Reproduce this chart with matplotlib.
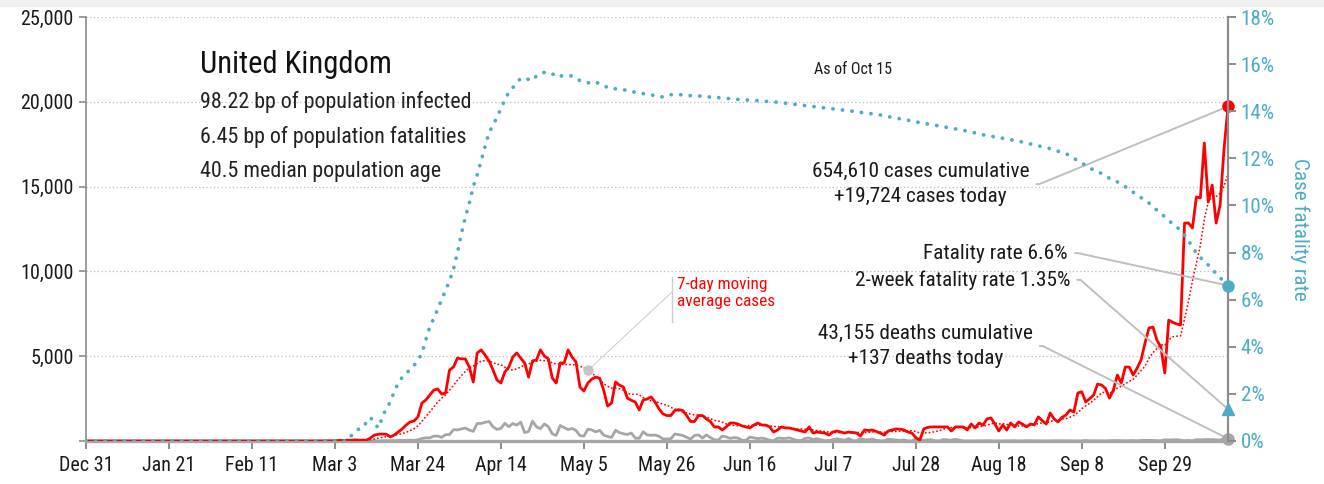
import matplotlib
matplotlib.use('Agg')
import matplotlib.pyplot as plt
import numpy as np
import pandas as pd
from matplotlib import font_manager
from matplotlib.patches import Rectangle

names = {f.name for f in font_manager.fontManager.ttflist}
FONT = 'Liberation Sans'
for cand in ['Roboto Condensed', 'Archivo Narrow', 'Liberation Sans Narrow',
             'Barlow Condensed', 'Asap Condensed']:
    if cand in names:
        FONT = cand
        break
plt.rcParams['font.family'] = [FONT, 'DejaVu Sans']

# ---------------- data ----------------
start_date = '2019-12-31'
x_tick_labels = ['Dec 31', 'Jan 21', 'Feb 11', 'Mar 3', 'Mar 24', 'Apr 14', 'May 5',
                 'May 26', 'Jun 16', 'Jul 7', 'Jul 28', 'Aug 18', 'Sep 8', 'Sep 29']
left_ticks = [0, 5000, 10000, 15000, 20000, 25000]
left_tick_labels = ['', '5,000', '10,000', '15,000', '20,000', '25,000']
right_ticks = [0, 2, 4, 6, 8, 10, 12, 14, 16, 18]
right_tick_labels = ['0%', '2%', '4%', '6%', '8%', '10%', '12%', '14%', '16%', '18%']

# daily new cases (Dec 31 .. Oct 15)
cases = [0] * 61 + [
    12, 4, 11, 34, 30, 48, 43, 67, 48, 46,
    50, 180, 350, 400, 410, 400, 240, 350, 530, 710,
    940, 1120, 1180, 1420, 2240, 2420, 2710, 3000, 3070, 2770,
    2830, 4190, 4360, 4890, 4840, 4840, 4360, 3480, 5190, 5370,
    5070, 4720, 4190, 3600, 3420, 4070, 4360, 4950, 5190, 4890,
    4600, 3770, 4720, 4780, 5370, 5010, 4840, 3710, 3420, 4600,
    4600, 5370, 4950, 4660, 3180, 2950, 3420, 3650, 3770, 3700,
    3000, 2060, 2240, 3480, 3300, 3180, 2530, 2400, 2300, 1830,
    2420, 2480, 2600, 2300, 1900, 1600, 1500, 1500, 1800, 1850,
    1800, 1500, 1150, 1150, 1500, 1500, 1300, 1150, 830, 830,
    650, 830, 1060, 1060, 1000, 890, 830, 770, 940, 1060,
    940, 940, 830, 530, 650, 830, 770, 770, 710, 650,
    590, 530, 830, 470, 530, 500, 470, 350, 530, 590,
    530, 470, 530, 500, 470, 300, 650, 620, 650, 560,
    470, 350, 590, 650, 710, 700, 650, 530, 470, 200,
    50, 710, 800, 830, 830, 830, 830, 830, 590, 830,
    830, 830, 650, 1000, 770, 1060, 940, 1300, 1360, 1000,
    590, 940, 650, 1060, 830, 1120, 1000, 830, 1000, 950,
    1420, 1200, 1000, 1650, 1300, 1120, 1400, 1530, 1830, 1710,
    2830, 2900, 2300, 2500, 2710, 3360, 3300, 3100, 2530, 3000,
    3890, 3420, 4360, 4360, 3890, 4300, 4780, 5780, 6660, 6720,
    5960, 5550, 4010, 7130, 7000, 6900, 6840, 12850, 12850, 12560,
    14390, 14330, 17570, 14090, 15090, 12850, 13910, 17230, 19724,
]

# daily new deaths
deaths = [0] * 70 + [
    1, 2, 0, 2, 1, 18, 15, 22, 16, 34,
    43, 36, 56, 35, 74, 149, 186, 183, 284, 294,
    214, 374, 382, 670, 652, 714, 760, 644, 568, 1038,
    1034, 1103, 1152, 839, 686, 744, 1044, 842, 1029, 935,
    1115, 498, 559, 1172, 837, 727, 1005, 843, 420, 338,
    909, 795, 674, 739, 621, 315, 288, 693, 649, 539,
    627, 346, 268, 210, 628, 494, 428, 384, 468, 170,
    160, 545, 363, 338, 351, 282, 118, 121, 134, 412,
    377, 324, 215, 113, 324, 359, 176, 357, 204, 77,
    55, 286, 245, 151, 202, 181, 36, 38, 233, 184,
    135, 173, 128, 43, 15, 171, 154, 149, 186, 100,
    36, 25, 155, 176, 89, 137, 67, 22, 16, 85,
    126, 85, 48, 148, 21, 11, 138, 79, 66, 123,
    40, 11, 14, 110, 83, 53, 38, 65, 7, 7,
    119, 83, 38, 68, 74, 8, 5, 89, 65, 49,
    97, 55, 3, 8, 3, 2, 12, 6, 19, 8,
    2, 11, 4, 16, 6, 18, 2, 5, 16, 12,
    9, 2, 0, 2, 3, 10, 12, 14, 7, 12,
    5, 3, 8, 32, 8, 14, 6, 9, 5, 20,
    20, 27, 21, 11, 18, 27, 11, 37, 37, 40,
    34, 17, 13, 71, 59, 66, 76, 49, 22, 33,
    19, 76, 70, 77, 87, 81, 65, 50, 143, 137,
]

# case fatality rate, %
cfr = [0.0] * 66 + [
    0.0, 0.2, 0.4, 0.5, 0.55, 0.8, 1.0, 0.75, 0.55, 1.0,
    1.4, 1.65, 2.1, 2.45, 2.7, 2.9, 3.0, 3.2, 3.45, 3.7,
    4.3, 4.85, 5.2, 5.6, 6.0, 6.4, 6.8, 7.3, 8.0, 8.8,
    9.5, 10.1, 10.8, 11.3, 11.9, 12.5, 13.1, 13.4, 13.75, 14.1,
    14.5, 14.8, 15.0, 15.2, 15.4, 15.4, 15.35, 15.3, 15.5, 15.6,
    15.65, 15.65, 15.6, 15.45, 15.5, 15.5, 15.5, 15.5, 15.4, 15.3,
    15.25, 15.2, 15.25, 15.25, 15.15, 15.1, 15.0, 15.0, 14.95, 14.95,
    14.9, 14.9, 14.85, 14.8, 14.8, 14.75, 14.7, 14.7, 14.65, 14.65,
    14.6, 14.65, 14.7, 14.7, 14.7, 14.7, 14.68, 14.66, 14.65, 14.65,
    14.63, 14.62, 14.6, 14.6, 14.58, 14.56, 14.55, 14.53, 14.52, 14.5,
    14.49, 14.48, 14.47, 14.46, 14.45, 14.44, 14.42, 14.41, 14.4, 14.38,
    14.36, 14.34, 14.32, 14.3, 14.28, 14.26, 14.24, 14.22, 14.2, 14.18,
    14.16, 14.14, 14.12, 14.1, 14.08, 14.06, 14.04, 14.02, 14.0, 13.98,
    13.95, 13.93, 13.91, 13.89, 13.87, 13.84, 13.8, 13.77, 13.74, 13.71,
    13.68, 13.65, 13.62, 13.58, 13.55, 13.52, 13.49, 13.46, 13.43, 13.4,
    13.37, 13.34, 13.31, 13.28, 13.25, 13.22, 13.19, 13.15, 13.12, 13.08,
    13.04, 13.0, 12.97, 12.94, 12.91, 12.88, 12.85, 12.82, 12.79, 12.76,
    12.73, 12.69, 12.65, 12.61, 12.57, 12.53, 12.49, 12.45, 12.41, 12.36,
    12.3, 12.25, 12.2, 12.1, 12.0, 11.9, 11.8, 11.7, 11.6, 11.5,
    11.45, 11.35, 11.25, 11.15, 11.1, 11.0, 10.9, 10.8, 10.68, 10.56,
    10.44, 10.33, 10.22, 10.1, 9.95, 9.8, 9.66, 9.52, 9.38, 9.2,
    9.08, 8.96, 8.74, 8.5, 8.25, 7.98, 7.8, 7.62, 7.47, 7.3,
    7.1, 6.93, 6.77, 6.6,
]
two_week_cfr = 1.35

title = 'United Kingdom'
stats = ['98.22 bp of population infected', '6.45 bp of population fatalities',
         '40.5 median population age']
as_of = 'As of Oct 15'
cases_note = '654,610 cases cumulative\n+19,724 cases today'
deaths_note = '43,155 deaths cumulative\n+137 deaths today'
fat_note = 'Fatality rate 6.6%'
fat2_note = '2-week fatality rate 1.35%'
ma_note = '7-day moving\naverage cases'
ma_note_day = 127

# ---------------- styling ----------------
RED = '#ff0000'
BLUE = '#4bacc6'
GREY = '#a6a6a6'
AXC = '#8c8c8c'
LEAD = '#bfbfbf'
TXT = '#1a1a1a'

dates = pd.date_range(start_date, periods=len(cases), freq='D')
ma = pd.Series(cases, dtype=float).rolling(7, min_periods=1).mean().values

W, H = 1324, 484
fig = plt.figure(figsize=(W / 100, H / 100), dpi=100)

# calibrate font scale so the text widths match the reference layout
renderer = fig.canvas.get_renderer()
_t = fig.text(0, 0, stats[0], fontsize=10)
_w = _t.get_window_extent(renderer).width
_t.remove()
S = (270.0 / _w) * 10 / 16.5   # stat line is ~270 px wide at "16.5"

fig.patches.append(Rectangle((0, 1 - 6 / H), 1, 6 / H, transform=fig.transFigure,
                             color='#f0f0f0', zorder=0))
ax = fig.add_axes([86 / W, 43 / H, 1142 / W, 424 / H])
ax2 = ax.twinx()

ax.plot(dates, deaths, color=GREY, lw=2.0, zorder=2, solid_joinstyle='round')
ax.plot(dates, cases, color=RED, lw=2.0, zorder=3, solid_joinstyle='round')
ax.plot(dates, ma, color=RED, lw=1.3, linestyle=(0, (0.1, 2.0)),
        dash_capstyle='round', zorder=4)
ax2.plot(dates, cfr, color=BLUE, lw=2.7, linestyle=(0, (0.05, 2.5)),
         dash_capstyle='round', zorder=3)

ax.set_xlim(dates[0], dates[-1])
ax.set_ylim(0, 25000)
ax2.set_ylim(0, 18)

ax.set_xticks(dates[::21][:len(x_tick_labels)])
ax.set_xticklabels(x_tick_labels)
ax.set_yticks(left_ticks)
ax.set_yticklabels(left_tick_labels)
ax2.set_yticks(right_ticks)
ax2.set_yticklabels(right_tick_labels)

ax.yaxis.grid(True, color='#bdbdbd', linestyle=(0, (1, 2)), lw=0.9)
ax.set_axisbelow(True)

for a in (ax, ax2):
    a.spines['top'].set_visible(False)
    a.patch.set_visible(False)
ax2.spines['left'].set_visible(False)
ax2.spines['bottom'].set_visible(False)
ax.spines['right'].set_visible(False)
ax.spines['left'].set_color(AXC)
ax.spines['left'].set_linewidth(1.2)
ax.spines['bottom'].set_color(GREY)
ax.spines['bottom'].set_linewidth(2.4)
ax2.spines['right'].set_color(AXC)
ax2.spines['right'].set_linewidth(1.6)

ax.tick_params(axis='y', length=5, width=1.2, color=AXC, labelsize=15 * S,
               labelcolor=TXT, pad=4)
ax.tick_params(axis='x', length=6, width=1.4, color=AXC, labelsize=15 * S,
               labelcolor=TXT, pad=5)
ax2.tick_params(axis='y', length=6, width=1.4, color=AXC, labelsize=15.8 * S,
                labelcolor=BLUE, pad=3)

ax2.text(1.063, 0.5, 'Case fatality rate', transform=ax2.transAxes, rotation=270,
         ha='center', va='center', color=BLUE, fontsize=16 * S)

# headline texts
ax.text(0.0998, 0.889, title, transform=ax.transAxes, fontsize=23 * S,
        color='#111111', ha='left', va='center')
for s, yy in zip(stats, [0.80, 0.716, 0.636]):
    ax.text(0.0998, yy, s, transform=ax.transAxes, fontsize=16.5 * S,
            color='#222222', ha='left', va='center')
ax.text(0.672, 0.875, as_of, transform=ax.transAxes, fontsize=12 * S,
        color=TXT, ha='center', va='center')

# end markers
ax.plot(dates[-1], cases[-1], 'o', color=RED, ms=8, clip_on=False, zorder=10)
ax.plot(dates[-1], deaths[-1], 'o', color=GREY, ms=8, clip_on=False, zorder=10)
ax2.plot(dates[-1], cfr[-1], 'o', color=BLUE, ms=8, clip_on=False, zorder=10)
ax2.plot(dates[-1], two_week_cfr, '^', color=BLUE, ms=9, clip_on=False, zorder=10)

lead = dict(arrowstyle='-', color=LEAD, lw=1.4, shrinkA=3, shrinkB=0,
            connectionstyle='arc,angleA=0,armA=10,angleB=0,armB=0,rad=0',
            relpos=(1, 0.5))
note_fs = 16 * S
ax.annotate(cases_note, xy=(dates[-1], cases[-1]), xytext=(0.731, 0.606),
            textcoords='axes fraction', ha='center', va='center', fontsize=note_fs,
            color=TXT, arrowprops=lead, zorder=6, linespacing=1.45)
ax.annotate(deaths_note, xy=(dates[-1], deaths[-1]), xytext=(0.735, 0.224),
            textcoords='axes fraction', ha='center', va='center', fontsize=note_fs,
            color=TXT, arrowprops=lead, zorder=6, linespacing=1.45)
ax2.annotate(fat_note, xy=(dates[-1], cfr[-1]), xytext=(0.860, 0.443),
             textcoords='axes fraction', ha='right', va='center', fontsize=note_fs,
             color=TXT, arrowprops=lead, zorder=6)
ax2.annotate(fat2_note, xy=(dates[-1], two_week_cfr), xytext=(0.862, 0.380),
             textcoords='axes fraction', ha='right', va='center', fontsize=note_fs,
             color=TXT, arrowprops=lead, zorder=6)

# 7-day moving average label
ax.plot(dates[ma_note_day], ma[ma_note_day], 'o', color='#c4c4c4', ms=6.5, zorder=7)
ax.annotate('', xy=(dates[ma_note_day], ma[ma_note_day]), xytext=(0.513, 0.351),
            textcoords='axes fraction',
            arrowprops=dict(arrowstyle='-', color='#cccccc', lw=0.7, shrinkA=0, shrinkB=3))
ax.plot([0.513, 0.513], [0.281, 0.387], transform=ax.transAxes, color='#cccccc', lw=1.0)
ax.text(0.5175, 0.349, ma_note, transform=ax.transAxes, fontsize=13 * S, color=RED,
        ha='left', va='center', linespacing=1.2)

fig.savefig('out.png', dpi=100)
